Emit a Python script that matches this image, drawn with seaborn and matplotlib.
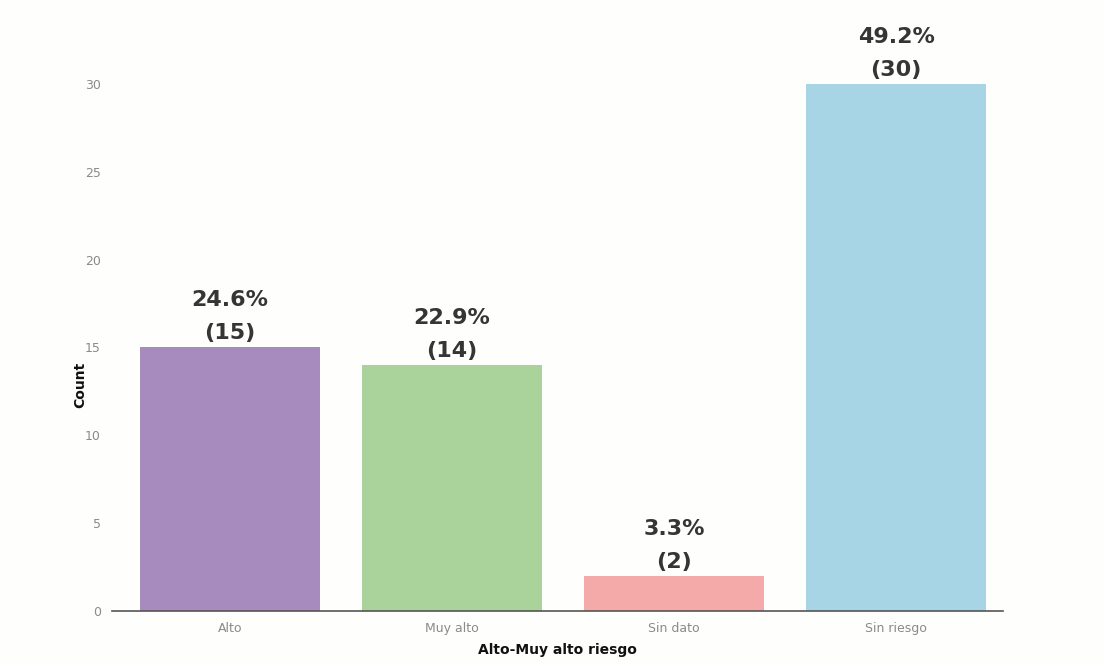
import matplotlib
matplotlib.use("Agg")
import matplotlib.pyplot as plt
import seaborn as sns
import pandas as pd

categories = ["Alto", "Muy alto", "Sin dato", "Sin riesgo"]
counts = [15, 14, 2, 30]
percent_labels = ["24.6%", "22.9%", "3.3%", "49.2%"]
colors = ["#A78BBF", "#A9D39A", "#F4AAA8", "#A8D5E6"]
yticks = [0, 5, 10, 15, 20, 25, 30]

sns.set_theme(style="white")
plt.rcParams['font.family'] = ['DejaVu Sans']

df = pd.DataFrame({"cat": categories, "count": counts})

fig = plt.figure(figsize=(11.03, 6.65), dpi=100)
fig.patch.set_facecolor("#FEFEFC")
ax = fig.add_axes([0.1015, 0.0812, 0.8075, 0.872])
ax.set_facecolor("#FEFEFC")

sns.barplot(data=df, x="cat", y="count", hue="cat", palette=colors,
            order=categories, hue_order=categories, legend=False,
            width=0.81, ax=ax, edgecolor="none", saturation=1)

for i, (c, p) in enumerate(zip(counts, percent_labels)):
    ax.annotate(f"{p}\n({c})", xy=(i, c), xytext=(0, 3), textcoords="offset points",
                ha="center", va="bottom", fontsize=16, fontweight="bold",
                color="#353535", linespacing=1.8)

ax.set_xlim(-0.53, 3.48)
ax.set_ylim(0, 33)
ax.set_yticks(yticks)
ax.tick_params(axis="both", length=0, labelsize=9, labelcolor="#8a8a8a", pad=8)
ax.set_xlabel("Alto-Muy alto riesgo", fontsize=10, fontweight="bold", color="#111111", labelpad=6)
ax.set_ylabel("Count", fontsize=10, fontweight="bold", color="#111111")
ax.yaxis.set_label_coords(-0.028, 0.39)
for s in ["top", "right", "left"]:
    ax.spines[s].set_visible(False)
ax.spines["bottom"].set_color("#555555")
ax.spines["bottom"].set_linewidth(1.2)

fig.savefig("out.png", dpi=100, facecolor=fig.get_facecolor())
